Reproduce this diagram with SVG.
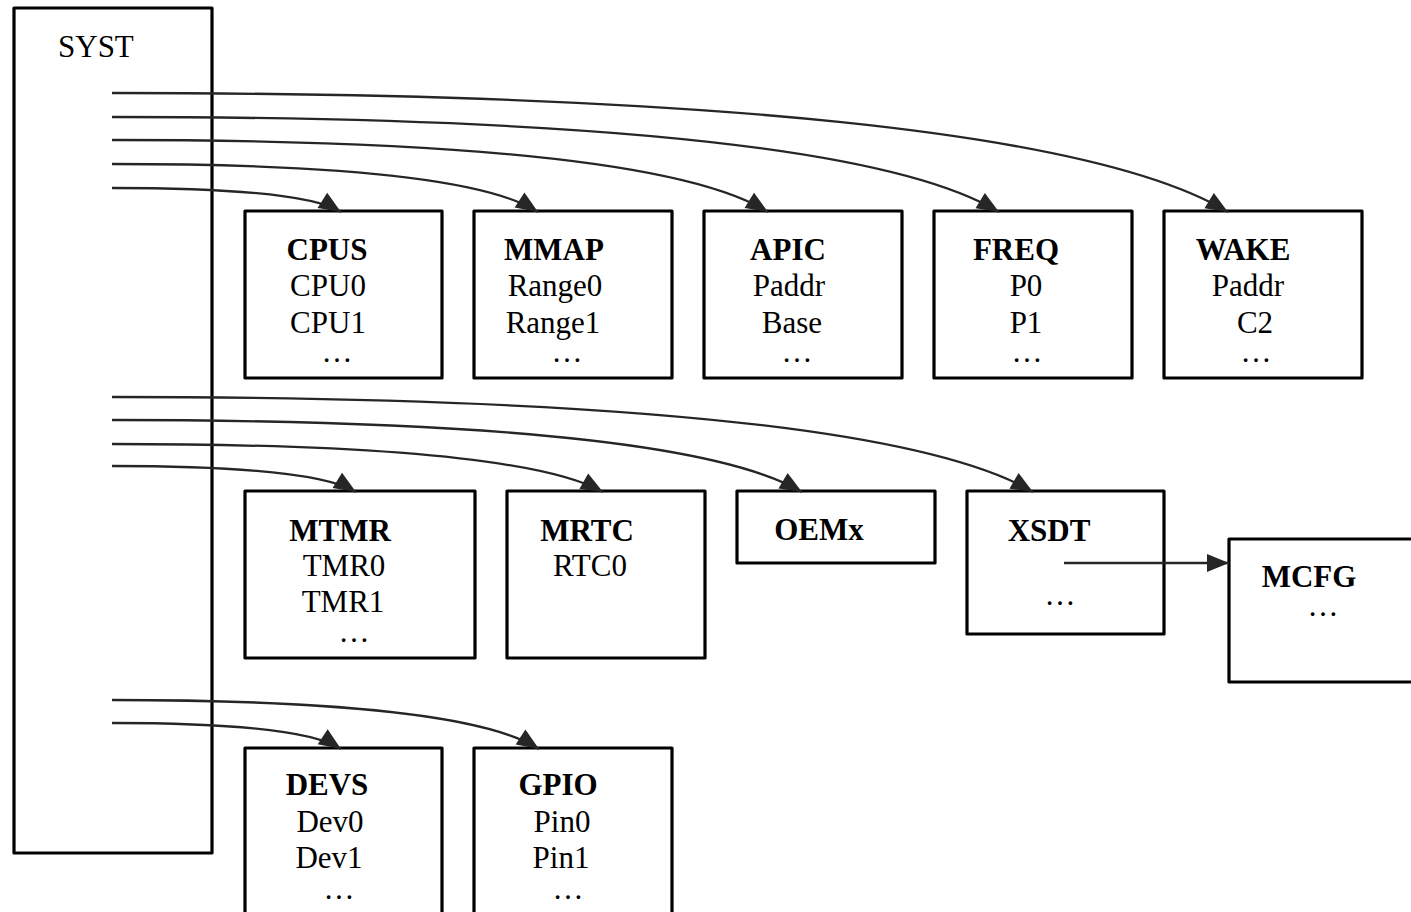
<svg xmlns="http://www.w3.org/2000/svg" width="1411" height="912" viewBox="0 0 1411 912">
  <style>
    .box { fill: #ffffff; stroke: #000000; stroke-width: 3.2; stroke-linejoin: round; }
    .link { fill: none; stroke: #262626; stroke-width: 2.3; marker-end: url(#arrow); }
    text { font-family: "Liberation Serif", "Times New Roman", serif; font-size: 31px; fill: #000000; }
    .title { font-weight: bold; }
    .c { text-anchor: middle; }
  </style>
  <defs>
    <marker id="arrow" markerUnits="userSpaceOnUse" markerWidth="26" markerHeight="22" refX="23" refY="10" orient="auto">
      <path d="M1,1 L23,10 L1,19 Z" fill="#262626"/>
    </marker>
  </defs>

  <rect width="1411" height="912" fill="#ffffff"/>

  <!-- system table -->
  <g id="syst">
    <rect class="box" x="14" y="8" width="198" height="845"/>
    <text x="58" y="57">SYST</text>
  </g>

  <!-- first row -->
  <g id="cpus">
    <rect class="box" x="245" y="211" width="197" height="167"/>
    <text class="title c" x="327" y="260">CPUS</text>
    <text class="c" x="328" y="296">CPU0</text>
    <text class="c" x="328" y="333">CPU1</text>
    <text class="c" x="337" y="362">…</text>
  </g>
  <g id="mmap">
    <rect class="box" x="474" y="211" width="198" height="167"/>
    <text class="title c" x="554" y="260">MMAP</text>
    <text class="c" x="555" y="296">Range0</text>
    <text class="c" x="553" y="333">Range1</text>
    <text class="c" x="567" y="362">…</text>
  </g>
  <g id="apic">
    <rect class="box" x="704" y="211" width="198" height="167"/>
    <text class="title c" x="788" y="260">APIC</text>
    <text class="c" x="789" y="296">Paddr</text>
    <text class="c" x="792" y="333">Base</text>
    <text class="c" x="797" y="362">…</text>
  </g>
  <g id="freq">
    <rect class="box" x="934" y="211" width="198" height="167"/>
    <text class="title c" x="1016" y="260">FREQ</text>
    <text class="c" x="1026" y="296">P0</text>
    <text class="c" x="1026" y="333">P1</text>
    <text class="c" x="1027" y="362">…</text>
  </g>
  <g id="wake">
    <rect class="box" x="1164" y="211" width="198" height="167"/>
    <text class="title c" x="1243" y="260">WAKE</text>
    <text class="c" x="1248" y="296">Paddr</text>
    <text class="c" x="1255" y="333">C2</text>
    <text class="c" x="1256" y="362">…</text>
  </g>

  <!-- second row -->
  <g id="mtmr">
    <rect class="box" x="245" y="491" width="230" height="167"/>
    <text class="title c" x="340" y="541">MTMR</text>
    <text class="c" x="344" y="576">TMR0</text>
    <text class="c" x="343" y="612">TMR1</text>
    <text class="c" x="354" y="642">…</text>
  </g>
  <g id="mrtc">
    <rect class="box" x="507" y="491" width="198" height="167"/>
    <text class="title c" x="587" y="541">MRTC</text>
    <text class="c" x="590" y="576">RTC0</text>
  </g>
  <g id="oemx">
    <rect class="box" x="737" y="491" width="198" height="72"/>
    <text class="title c" x="819" y="540">OEMx</text>
  </g>
  <g id="xsdt">
    <rect class="box" x="967" y="491" width="197" height="143"/>
    <text class="title c" x="1049" y="541">XSDT</text>
    <text class="c" x="1060" y="605">…</text>
  </g>
  <g id="mcfg">
    <rect class="box" x="1229" y="539" width="200" height="143"/>
    <text class="title c" x="1309" y="587">MCFG</text>
    <text class="c" x="1323" y="616">…</text>
  </g>

  <!-- third row -->
  <g id="devs">
    <rect class="box" x="245" y="748" width="197" height="170"/>
    <text class="title c" x="327" y="795">DEVS</text>
    <text class="c" x="330" y="832">Dev0</text>
    <text class="c" x="329" y="868">Dev1</text>
    <text class="c" x="339" y="899">…</text>
  </g>
  <g id="gpio">
    <rect class="box" x="474" y="748" width="198" height="170"/>
    <text class="title c" x="558" y="795">GPIO</text>
    <text class="c" x="562" y="832">Pin0</text>
    <text class="c" x="561" y="868">Pin1</text>
    <text class="c" x="568" y="899">…</text>
  </g>

  <!-- connectors from SYST entries to the tables, drawn over the boxes -->
  <g id="connectors">
    <path class="link" d="M112,93 C703,93 1094,131 1228,212"/>
    <path class="link" d="M112,117 C582,117 892,147 999,212"/>
    <path class="link" d="M112,140 C460,140 689,163 768,212"/>
    <path class="link" d="M112,164 C338,164 487,179 538,212"/>
    <path class="link" d="M112,188 C233,188 314,195 341,212"/>

    <path class="link" d="M112,397 C600,397 922,427 1033,492"/>
    <path class="link" d="M112,420 C478,420 719,443 802,492"/>
    <path class="link" d="M112,444 C372,444 544,459 603,492"/>
    <path class="link" d="M112,466 C241,466 327,474 356,492"/>

    <path class="link" d="M112,700 C338,700 488,716 539,749"/>
    <path class="link" d="M112,723 C233,723 314,731 341,749"/>

    <path class="link" d="M1064,563 L1229,563"/>
  </g>
</svg>
